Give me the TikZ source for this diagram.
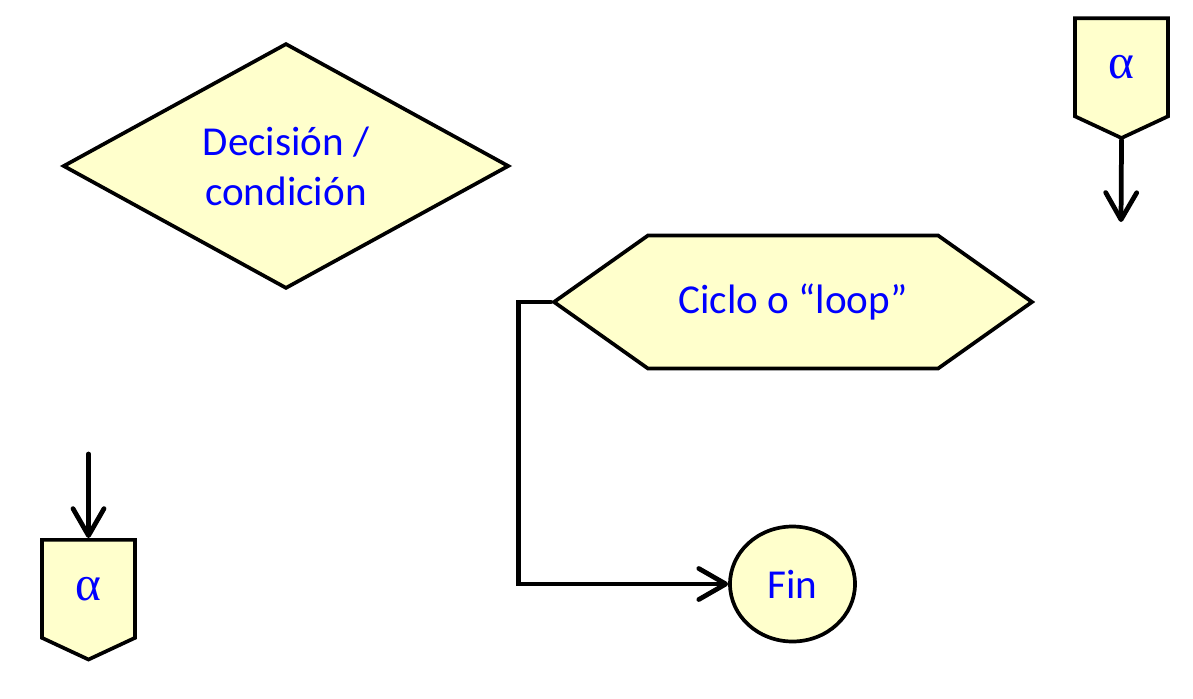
\documentclass[tikz,border=0pt]{standalone}
\usepackage{fontspec}
\setmainfont{Carlito}
\newfontfamily\greekfont{Liberation Serif}
\usepackage{tikz}
\usetikzlibrary{shapes.geometric}
\usetikzlibrary{shapes.symbols}
\usetikzlibrary{arrows.meta}

\definecolor{symfill}{HTML}{FFFFCC}
\definecolor{symtext}{HTML}{0000FF}

\tikzset{
    symbol/.style = {draw, line width=1.05pt, fill=symfill, text=symtext, inner sep=0pt,
                     font=\fontsize{11.7}{14.2}\selectfont, align=center},
    offpage/.style = {symbol, signal, signal to=south, signal pointer angle=130,
                      minimum width=0.93cm, minimum height=1.04cm},
    flow/.style = {line width=1.35pt, line cap=round,
                   arrows = {-Straight Barb[length=2.7mm, width=3.1mm, round]}}
}

\begin{document}
\begin{tikzpicture}
    \useasboundingbox (0, 0) rectangle (11.93, 6.98);
    % decision
    \node[symbol, diamond, minimum width=4.46cm, minimum height=2.38cm] (dec) at (2.86, 5.32)
        {Decisión /\\condición};
    % loop
    \node[symbol, signal, signal to=west and east, signal pointer angle=70.6,
          minimum width=4.78cm, minimum height=1.33cm] (loop) at (7.93, 3.96) {Ciclo o “loop”};
    % end
    \node[symbol, ellipse, minimum width=1.25cm, minimum height=1.15cm] (fin) at (7.925, 1.14) {Fin};
    % off-page connectors
    \node[offpage, anchor=north] (outA) at (11.215, 6.815)
        {\greekfont\fontsize{14}{14}\selectfont α};
    \node[offpage, anchor=north] (inA) at (0.885, 1.60)
        {\greekfont\fontsize{14}{14}\selectfont α};
    \coordinate (outEnd) at (11.21, 4.76);
    \coordinate (inStart) at (0.885, 2.44);
    \draw[flow] (outA.south) -- (outEnd);
    \draw[flow] (inStart) -- (inA.north);
    \draw[flow] (loop.west) -- ++(-0.32, 0) |- (fin.west);
\end{tikzpicture}
\end{document}
